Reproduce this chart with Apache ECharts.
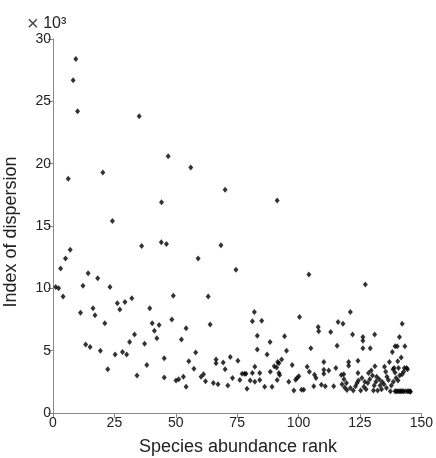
<!DOCTYPE html>
<html>
<head>
<meta charset="utf-8">
<title>Index of dispersion</title>
<style>
html, body { margin: 0; padding: 0; background: #fff; }
#container { width: 436px; height: 458px; }
</style>
</head>
<body>
<div id="container"></div>
<script src="https://cdn.jsdelivr.net/npm/echarts@6/dist/echarts.min.js"></script>
<script>
// species abundance rank (x) and index of dispersion in thousands (y)
var rank = [
  1.1, 2.3, 3.1, 4.1, 5.1, 6.2, 7.0, 8.2, 9.3, 10.0, 11.2, 12.2, 13.3, 14.3, 15.1, 16.3, 17.1, 18.2, 19.3, 20.3,
  21.1, 22.3, 23.2, 24.2, 25.3, 26.2, 27.2, 28.3, 29.3, 30.0, 31.2, 32.1, 33.2, 34.2, 35.1, 36.1, 37.3, 38.2, 39.4, 40.4,
  41.3, 42.3, 43.2, 44.1, 44.2, 45.3, 45.3, 46.2, 46.9, 48.4, 49.0, 50.1, 51.2, 52.3, 53.1, 54.2, 54.2, 55.3, 56.1, 57.4,
  58.1, 59.1, 60.3, 61.3, 62.1, 63.2, 64.0, 65.3, 66.4, 66.4, 67.2, 68.4, 69.3, 70.1, 70.1, 71.2, 72.2, 73.1, 74.5, 75.3,
  76.1, 77.0, 78.0, 78.6, 79.0, 80.3, 81.2, 81.2, 82.0, 82.2, 82.2, 83.2, 83.2, 84.2, 84.2, 85.0, 86.2, 87.2, 88.4, 88.5,
  89.2, 90.1, 91.1, 91.3, 91.5, 91.3, 92.0, 92.3, 93.1, 92.0, 94.3, 95.1, 96.0, 97.4, 98.1, 98.8, 99.4, 100.1, 100.4, 101.2,
  102.1, 103.5, 104.2, 104.4, 105.0, 106.2, 106.5, 107.1, 108.0, 108.2, 109.3, 110.3, 110.3, 110.3, 110.9, 112.3, 113.1, 114.3, 115.2, 115.7,
  116.1, 117.4, 117.7, 118.1, 118.4, 118.8, 119.7, 120.4, 120.4, 121.1, 121.1, 122.0, 122.3, 123.2, 124.2, 124.2, 124.4, 125.3, 126.2, 126.2,
  126.2, 126.6, 127.2, 127.5, 128.2, 128.5, 129.2, 129.6, 130.1, 130.5, 131.0, 131.1, 131.5, 132.2, 132.8, 133.2, 134.0, 135.0, 135.5, 135.8,
  136.6, 137.0, 137.4, 138.2, 138.5, 138.9, 139.3, 139.3, 139.3, 140.2, 140.4, 140.7, 140.5, 141.1, 141.0, 141.8, 142.2, 142.2, 142.6, 143.1,
  143.3, 143.4, 144.0, 144.4, 144.3, 145.4, 145.6,
  118.5, 119.5, 123.8, 125.8, 127.0, 129.0, 130.8, 131.8, 133.8, 134.8, 136.0, 137.8, 138.6, 139.7, 141.2, 142.8,
  139.8, 140.4, 141.6, 142.1, 144.9
];
var dispersion = [
  10.1, 10.0, 11.6, 9.35, 12.4, 18.8, 13.1, 26.7, 28.4, 24.2, 8.05, 10.2, 5.5, 11.2, 5.3, 8.4, 7.85, 10.8, 5.0, 19.3,
  7.2, 3.5, 10.1, 15.4, 4.7, 8.8, 8.3, 4.9, 8.9, 4.7, 5.7, 9.2, 6.3, 3.0, 23.8, 13.4, 5.55, 3.85, 8.4, 7.2,
  6.6, 6.0, 7.05, 13.7, 16.9, 4.4, 2.85, 13.55, 20.6, 7.5, 9.4, 2.6, 2.7, 5.9, 2.9, 6.8, 2.1, 4.15, 19.7, 3.55,
  4.85, 12.4, 2.9, 3.1, 2.55, 9.35, 7.1, 2.4, 4.3, 4.0, 2.3, 13.45, 4.05, 17.9, 3.5, 2.2, 4.5, 2.8, 11.5, 4.2,
  2.65, 3.15, 3.15, 3.15, 1.95, 2.6, 3.2, 7.35, 8.1, 3.7, 2.5, 6.2, 5.1, 3.2, 2.65, 7.4, 2.1, 4.7, 5.7, 3.3,
  2.1, 3.75, 3.65, 17.05, 4.1, 2.65, 3.2, 3.05, 4.3, 4.0, 6.15, 5.0, 2.5, 3.85, 1.8, 2.67, 2.8, 2.95, 7.7, 1.87,
  1.87, 3.7, 11.1, 3.3, 5.2, 2.14, 3.07, 2.8, 6.9, 6.55, 2.27, 4.1, 3.47, 3.15, 2.14, 3.4, 6.5, 2.14, 3.6, 5.4,
  7.3, 3.05, 2.3, 7.15, 3.1, 2.05, 1.85, 4.1, 3.8, 8.1, 2.0, 6.3, 1.8, 2.15, 4.2, 3.2, 2.6, 1.8, 6.1, 5.8,
  5.2, 2.1, 10.3, 1.9, 2.4, 3.2, 5.2, 3.4, 3.0, 1.8, 6.3, 3.75, 2.5, 1.8, 2.7, 2.2, 2.5, 3.7, 3.3, 2.0,
  2.65, 4.1, 1.75, 4.9, 3.5, 3.6, 5.35, 3.25, 1.75, 5.35, 4.15, 3.6, 2.6, 6.1, 1.75, 4.45, 7.15, 3.1, 1.75, 3.6,
  5.35, 1.75, 3.6, 3.5, 1.75, 1.75, 1.7,
  2.7, 2.4, 2.4, 2.8, 2.5, 2.7, 2.2, 2.9, 1.9, 2.3, 2.9, 2.2, 2.5, 2.8, 3.0, 3.3,
  1.75, 1.75, 1.75, 1.75, 1.75
];

var points = [];
for (var i = 0; i < rank.length; i++) {
  points.push([rank[i], dispersion[i]]);
}

var txt = '#222';
var axisGray = '#888';
var font = 'Liberation Sans, Arial, Helvetica, sans-serif';

var chart = echarts.init(document.getElementById('container'));
chart.setOption({
  animation: false,
  backgroundColor: '#fff',
  grid: { left: 53, right: 13, top: 39, bottom: 45 },
  xAxis: {
    type: 'value',
    min: 0, max: 150, interval: 25,
    splitLine: { show: false },
    axisLine: { lineStyle: { color: axisGray, width: 1 } },
    axisTick: { show: true, length: 5, lineStyle: { color: axisGray } },
    axisLabel: { color: txt, fontSize: 14, fontFamily: font, margin: 3 }
  },
  yAxis: {
    type: 'value',
    min: 0, max: 30, interval: 5,
    splitLine: { show: false },
    axisLine: { show: true, lineStyle: { color: axisGray, width: 1 } },
    axisTick: { show: true, length: 5, lineStyle: { color: axisGray } },
    axisLabel: { color: txt, fontSize: 14, fontFamily: font, margin: 2 }
  },
  graphic: [
    { type: 'text', left: 27, top: 14,
      style: {
        text: '{m|×} 10³', fill: txt, font: '16px ' + font,
        rich: { m: { fontSize: 20, fontFamily: font, fontWeight: 'lighter', fill: '#444' } }
      } },
    { type: 'text', x: 238, y: 456,
      style: { text: 'Species abundance rank', fill: txt, font: '18px ' + font,
               textAlign: 'center', textVerticalAlign: 'bottom' } },
    { type: 'text', x: 2, y: 232, rotation: Math.PI / 2,
      style: { text: 'Index of dispersion', fill: txt, font: '18px ' + font,
               textAlign: 'center', textVerticalAlign: 'top' } }
  ],
  series: [{
    type: 'scatter',
    symbol: 'diamond',
    symbolSize: [5, 6],
    itemStyle: { color: '#000' },
    data: points
  }]
});
</script>
</body>
</html>
